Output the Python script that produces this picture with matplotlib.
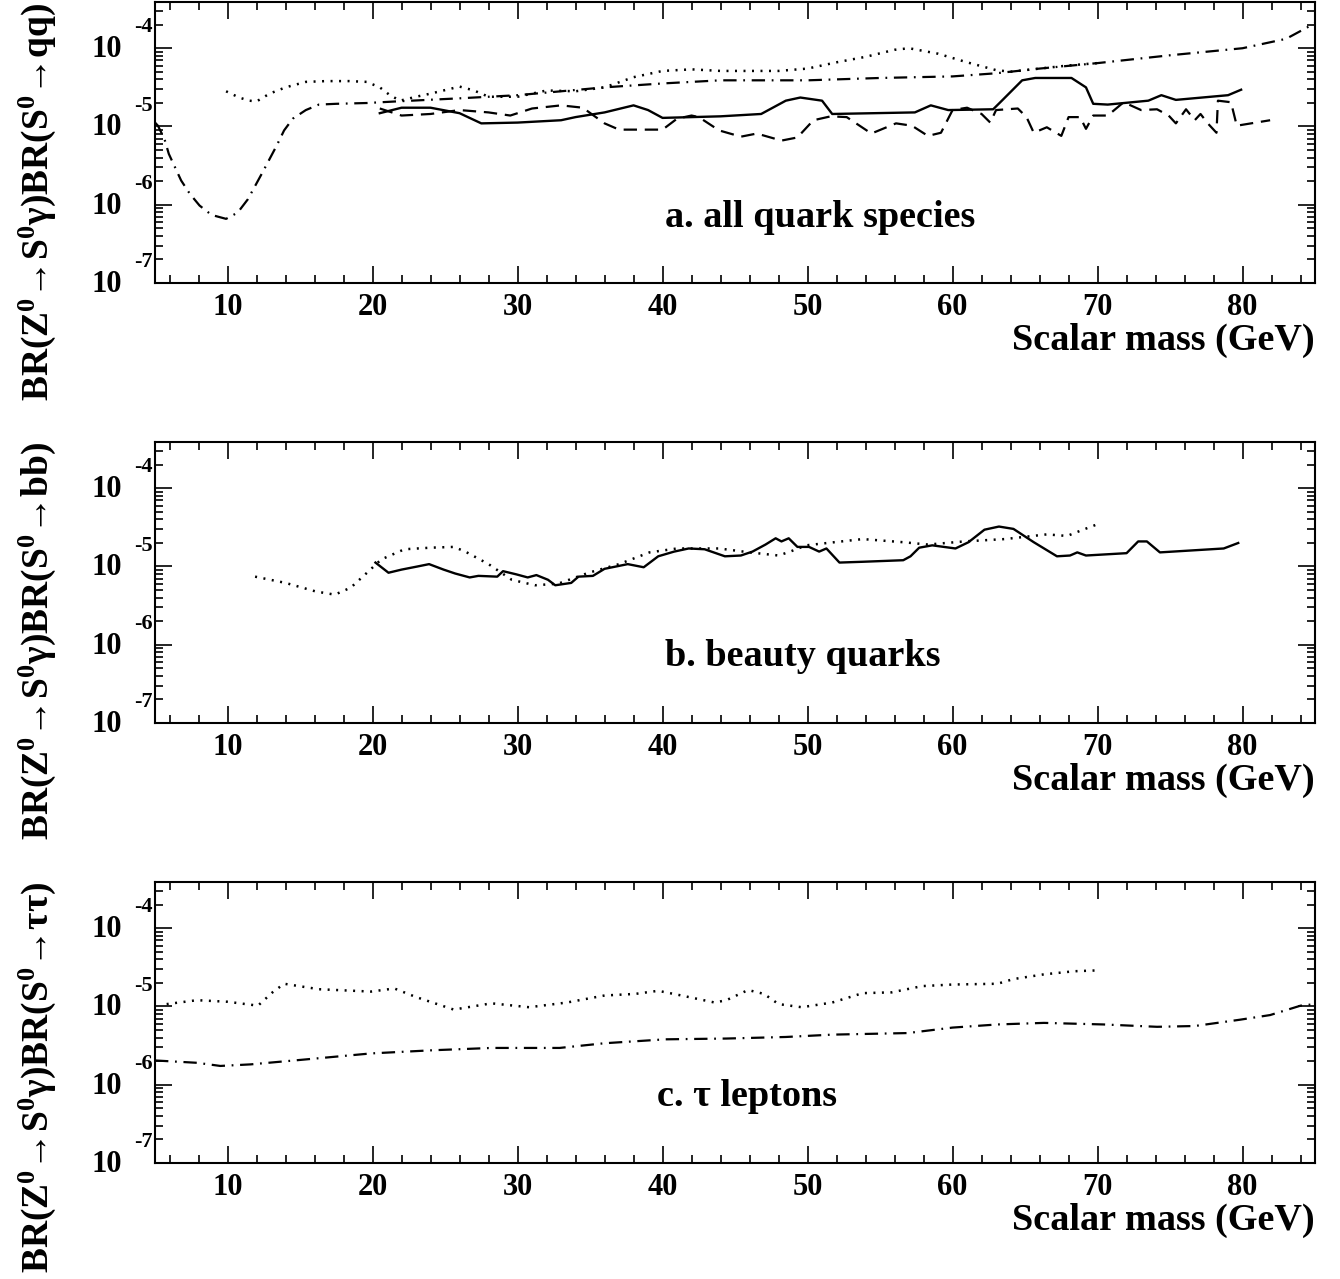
import numpy as np
import matplotlib
matplotlib.use("Agg")
import matplotlib.pyplot as plt
from matplotlib.ticker import FixedLocator, LogLocator, NullFormatter, MultipleLocator

plt.rcParams["font.family"] = ["Liberation Serif", "DejaVu Serif"]
plt.rcParams["font.weight"] = "bold"
plt.rcParams["mathtext.fontset"] = "custom"
plt.rcParams["mathtext.rm"] = "Liberation Serif:bold"
plt.rcParams["mathtext.bf"] = "Liberation Serif:bold"
plt.rcParams["mathtext.it"] = "Liberation Serif:bold:italic"
plt.rcParams["mathtext.default"] = "bf"

# values, stored as log10(BR)
# panel a: all quark species
a_solid_x = [20.5, 22, 24, 26, 27.5, 30, 33, 34, 36, 38, 39, 40, 44, 46.8, 48.5, 49.5, 51, 51.7,
             57.4, 58.5, 59.7, 62.8, 63.4, 64.8, 65.7, 68.2, 69.2, 69.7, 70.7, 73.5, 74.4, 75.4, 79, 79.9]
a_solid_y = [-4.83, -4.76, -4.76, -4.83, -4.96, -4.95, -4.92, -4.88, -4.82, -4.73, -4.79, -4.89, -4.87,
             -4.84, -4.67, -4.63, -4.67, -4.84, -4.82, -4.73, -4.79, -4.78, -4.67, -4.41, -4.38, -4.38,
             -4.50, -4.71, -4.72, -4.67, -4.60, -4.66, -4.60, -4.53]

a_dash_x = [20.5, 22, 24, 26, 28, 29.5, 31, 33, 34.5, 36, 37, 40, 41, 42, 42.5, 43.9, 45.4, 46.5, 48.2,
            49.3, 50.4, 51.6, 52.7, 54.4, 56.1, 57.2, 58.3, 59.2, 60.0, 61.0, 62.0, 62.6, 63.0, 64.5,
            65.1, 65.6, 66.5, 67.5, 68.0, 68.8, 69.2, 69.7, 70.7, 71.8, 73.0, 74.1, 74.9, 75.4, 76.1,
            76.7, 77.1, 77.6, 78.2, 78.3, 79.2, 79.6, 81.9]
a_dash_y = [-4.77, -4.86, -4.84, -4.79, -4.82, -4.86, -4.77, -4.73, -4.76, -4.96, -5.04, -5.04, -4.90,
            -4.86, -4.88, -5.05, -5.13, -5.09, -5.18, -5.14, -4.92, -4.87, -4.88, -5.09, -4.96, -4.99,
            -5.12, -5.08, -4.79, -4.76, -4.84, -4.95, -4.79, -4.77, -4.88, -5.08, -5.01, -5.12, -4.88,
            -4.88, -5.03, -4.86, -4.86, -4.69, -4.79, -4.78, -4.86, -4.96, -4.78, -4.92, -4.84, -4.96,
            -5.08, -4.67, -4.69, -4.99, -4.92]

a_dot_x = [9.9, 10.8, 11.5, 12.0, 12.9, 14.0, 15.4, 16.8, 18.4, 19.6, 20.5, 21.2, 21.9, 23.0, 24, 26,
           27, 28, 30, 32, 34, 36, 38, 40, 42, 44, 46, 48, 50, 52, 54, 56, 57, 59, 61, 63, 64, 66, 68, 70]
a_dot_y = [-4.55, -4.63, -4.67, -4.68, -4.58, -4.50, -4.43, -4.42, -4.42, -4.43, -4.50, -4.60, -4.67,
           -4.62, -4.58, -4.49, -4.54, -4.62, -4.62, -4.54, -4.55, -4.50, -4.37, -4.29, -4.27, -4.29,
           -4.29, -4.29, -4.26, -4.18, -4.11, -4.02, -4.00, -4.07, -4.18, -4.28, -4.30, -4.26, -4.22, -4.19]

a_dd_x = [5.0, 5.2, 5.65, 5.95, 6.8, 7.4, 8.07, 8.9, 9.9, 10.7, 11.4, 12.4, 13.4, 13.9, 14.5, 15.4, 16.3,
          17.5, 19.6, 21.6, 26, 30, 36, 40, 44, 50, 55, 60, 63, 66, 70, 75, 80, 83, 85]
a_dd_y = [-4.95, -4.99, -5.16, -5.35, -5.69, -5.86, -6.01, -6.13, -6.18, -6.10, -5.93, -5.59, -5.24,
          -5.05, -4.90, -4.79, -4.72, -4.71, -4.70, -4.68, -4.64, -4.60, -4.50, -4.45, -4.41, -4.41,
          -4.38, -4.36, -4.32, -4.26, -4.19, -4.09, -4.00, -3.88, -3.68]

# panel b: beauty quarks
b_solid_x = [20.2, 21.1, 22.0, 23.1, 23.9, 24.9, 25.7, 26.7, 27.3, 28.6, 29.0, 29.9, 30.7, 31.3, 32.1,
             32.6, 33.7, 34.2, 35.2, 36.0, 37.6, 38.7, 39.7, 40.8, 41.8, 42.9, 44.3, 45.4, 46.2, 47.1,
             47.8, 48.2, 48.7, 49.3, 50.1, 50.8, 51.3, 52.2, 53.8, 56.6, 57.1, 57.7, 58.6, 60.2, 61.1,
             62.2, 63.2, 64.2, 65.6, 67.2, 68.1, 68.6, 69.2, 72.0, 72.8, 73.4, 74.3, 78.7, 79.7]
b_solid_y = [-4.95, -5.08, -5.04, -5.00, -4.97, -5.04, -5.09, -5.14, -5.12, -5.13, -5.06, -5.10, -5.14,
             -5.11, -5.17, -5.24, -5.21, -5.13, -5.12, -5.03, -4.97, -5.01, -4.87, -4.81, -4.77, -4.78,
             -4.87, -4.86, -4.81, -4.72, -4.64, -4.68, -4.64, -4.75, -4.75, -4.81, -4.77, -4.95, -4.94,
             -4.92, -4.87, -4.76, -4.73, -4.77, -4.69, -4.53, -4.49, -4.52, -4.69, -4.87, -4.86, -4.82,
             -4.86, -4.83, -4.68, -4.68, -4.82, -4.77, -4.70]

b_dot_x = [11.9, 14.0, 16.1, 17.4, 18.5, 19.5, 20.6, 22.2, 24.0, 25.6, 26.4, 28.0, 29.6, 31.2, 32.8,
           34.9, 37.0, 39.1, 41.0, 43.9, 46.0, 48.0, 48.8, 49.9, 53.8, 56.6, 58.3, 60.8, 63.6, 66.5,
           67.9, 69.0, 70.0]
b_dot_y = [-5.13, -5.21, -5.32, -5.36, -5.27, -5.10, -4.91, -4.78, -4.76, -4.75, -4.81, -4.97, -5.17,
           -5.24, -5.22, -5.08, -4.97, -4.82, -4.77, -4.77, -4.82, -4.86, -4.81, -4.73, -4.65, -4.69,
           -4.72, -4.68, -4.65, -4.59, -4.61, -4.53, -4.46]

# panel c: tau leptons
c_dot_x = [5.8, 7.9, 10.0, 12.1, 13.1, 13.9, 16.3, 19.9, 21.5, 23.0, 25.6, 28.2, 30.8, 33.4, 36.0,
           38.1, 39.7, 41.3, 43.6, 44.4, 45.9, 47.0, 48.0, 49.6, 51.7, 53.8, 55.8, 57.9, 60.0, 63.1,
           64.2, 66.3, 68.4, 69.9]
c_dot_y = [-4.97, -4.92, -4.94, -4.99, -4.82, -4.71, -4.78, -4.81, -4.77, -4.88, -5.04, -4.96, -5.01,
           -4.95, -4.86, -4.84, -4.80, -4.86, -4.95, -4.92, -4.79, -4.84, -4.97, -5.01, -4.95, -4.83,
           -4.82, -4.74, -4.72, -4.71, -4.65, -4.59, -4.55, -4.54]

c_dd_x = [5.0, 7.9, 9.5, 11.6, 15.2, 19.9, 24.1, 28.2, 32.9, 36.0, 40.2, 44.4, 48.5, 51.7, 56.9, 60.0,
          63.1, 66.3, 70.4, 74.1, 76.7, 79.8, 81.9, 84.0, 85.0]
c_dd_y = [-5.69, -5.72, -5.76, -5.74, -5.68, -5.60, -5.56, -5.53, -5.53, -5.47, -5.42, -5.41, -5.39,
          -5.36, -5.34, -5.27, -5.23, -5.21, -5.23, -5.26, -5.25, -5.17, -5.11, -4.99, -4.97]

x_ticks = [10, 20, 30, 40, 50, 60, 70, 80]
y_ticks = [1e-7, 1e-6, 1e-5, 1e-4]
y_exponents = ["-7", "-6", "-5", "-4"]

DOT = dict(color="black", lw=1.8, linestyle=(0, (0.8, 2.6)))
DASH = dict(color="black", lw=1.6, linestyle=(0, (6, 3.5)))
DASHDOT = dict(color="black", lw=1.6, linestyle=(0, (6, 3, 0.8, 3)))
SOLID = dict(color="black", lw=1.7, linestyle="-")

panels = [
    ("a. all quark species", "qq", 0.573, [
        (a_dd_x, a_dd_y, DASHDOT), (a_dot_x, a_dot_y, DOT),
        (a_dash_x, a_dash_y, DASH), (a_solid_x, a_solid_y, SOLID)]),
    ("b. beauty quarks", "bb", 0.558, [
        (b_dot_x, b_dot_y, DOT), (b_solid_x, b_solid_y, SOLID)]),
    ("c. τ leptons", "ττ", 0.51, [
        (c_dot_x, c_dot_y, DOT), (c_dd_x, c_dd_y, DASHDOT)]),
]

fig = plt.figure(figsize=(13.4, 12.79), dpi=100)
bottoms = [0.7787, 0.4347, 0.0907]
tops_px = [2, 441, 882]

for (title, decay, tx, curves), bot, top_px in zip(panels, bottoms, tops_px):
    ax = fig.add_axes([0.1157, bot, 0.8657, 0.2197])
    for xs, ys, style in curves:
        ax.plot(xs, 10 ** np.array(ys), **style)
    ax.set_yscale("log")
    ax.set_xlim(5, 85)
    ax.set_ylim(1e-7, 10 ** -3.41)
    ax.xaxis.set_major_locator(FixedLocator(x_ticks))
    ax.xaxis.set_minor_locator(MultipleLocator(2))
    ax.yaxis.set_major_locator(FixedLocator(y_ticks))
    ax.yaxis.set_major_formatter(NullFormatter())
    ax.yaxis.set_minor_locator(LogLocator(base=10, subs=np.arange(2, 10)))
    ax.yaxis.set_minor_formatter(NullFormatter())
    ax.tick_params(which="both", direction="in", top=True, right=True, width=1.2)
    ax.tick_params(which="major", length=12)
    ax.tick_params(which="minor", length=6)
    ax.tick_params(axis="x", pad=7, labelsize=22)
    for lab in ax.get_xticklabels():
        lab.set_fontweight("bold")
    for sp in ax.spines.values():
        sp.set_linewidth(1.5)

    # ROOT-style log labels: "10" on the tick, exponent raised next to the axis
    for yv, ex in zip(y_ticks, y_exponents):
        ax.annotate("10", xy=(0, yv), xycoords=("axes fraction", "data"),
                    xytext=(-24, -1), textcoords="offset points",
                    ha="right", va="center", fontsize=22, fontweight="bold")
        ax.annotate(ex, xy=(0, yv), xycoords=("axes fraction", "data"),
                    xytext=(-1.5, 15), textcoords="offset points",
                    ha="right", va="center", fontsize=16, fontweight="bold")

    ax.text(tx, 0.235, title, transform=ax.transAxes, ha="center", va="center",
            fontsize=27.5, fontweight="bold")
    ax.text(1.0, -0.203, "Scalar mass (GeV)", transform=ax.transAxes, ha="right",
            va="center", fontsize=27.5, fontweight="bold")
    ylab = "BR(Z$^{0}$→S$^{0}$γ)BR(S$^{0}$→" + decay + ")"
    fig.text(0.028, 1 - top_px / 1279, ylab, rotation=90, ha="center", va="top",
             fontsize=27, fontweight="bold")

fig.savefig("out.png", dpi=100)
